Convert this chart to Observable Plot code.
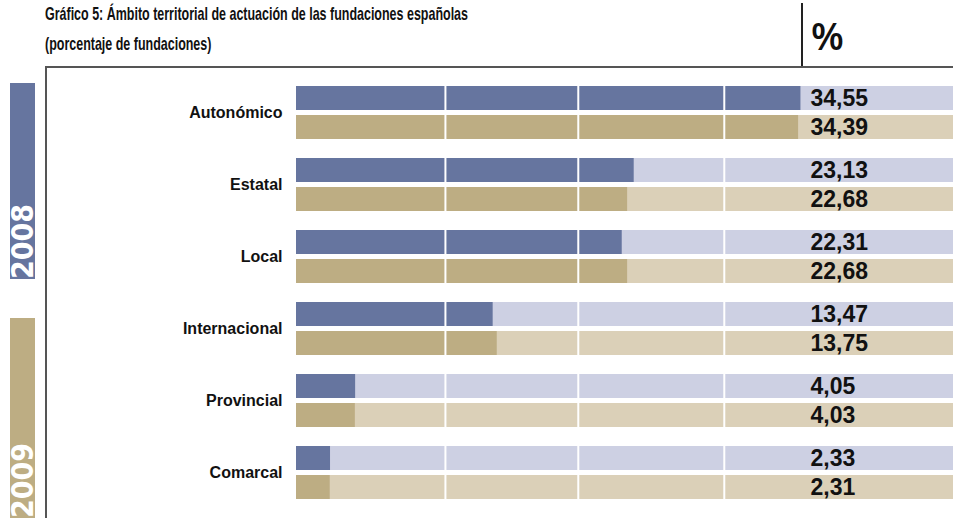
<!DOCTYPE html>
<html>
<head>
<meta charset="utf-8">
<script src="https://cdn.jsdelivr.net/npm/d3@7"></script>
<script src="https://cdn.jsdelivr.net/npm/@observablehq/plot@0.6"></script>
<style>
  html, body { margin: 0; padding: 0; background: #fff; }
  #wrap { position: relative; width: 953px; height: 518px; overflow: hidden; font-family: "Liberation Sans", Arial, sans-serif; }
  #title { position: absolute; left: 45px; top: -1px; font-family: "Liberation Sans", Arial, sans-serif; font-weight: bold; font-size: 19px; line-height: 30px; color: #111; white-space: nowrap; transform-origin: 0 0; }
  #title span { display: inline-block; }
  #pct { position: absolute; left: 811px; top: 12px; font-family: "Open Sans", sans-serif; font-weight: 600; font-size: 38px; line-height: 46px; color: #111; }
  #vline { position: absolute; left: 801px; top: 3px; width: 1.5px; height: 64px; background: #222; }
  #hline { position: absolute; left: 45px; top: 66px; width: 908px; height: 2px; background: #555; }
  #lline { position: absolute; left: 45px; top: 66px; width: 2px; height: 460px; background: #555; }
  .yr { position: absolute; left: 10px; width: 25px; }
  .yr span { position: absolute; left: 0; top: 100%; transform-origin: top left; transform: rotate(-90deg); height: 25px; line-height: 25px; color: #fff; font-family: "DejaVu Sans Condensed", sans-serif; font-weight: bold; font-size: 30px; white-space: nowrap; }
  #chart { position: absolute; left: 0; top: 67px; }
  #chart svg [aria-label^="fy-axis"] text { font-size: 16px; }
</style>
</head>
<body>
<div id="wrap">
  <div id="title"><span id="t1">Gráfico 5: Ámbito territorial de actuación de las fundaciones españolas</span><br><span>(porcentaje de fundaciones)</span></div>
  <div id="vline"></div>
  <div id="pct">%</div>
  <div id="hline"></div>
  <div id="chart"></div>
  <div id="lline"></div>
  <div class="yr" id="y2008" style="top:83px;height:196px;background:#66759f"><span style="width:196px">2008</span></div>
  <div class="yr" id="y2009" style="top:318px;height:200px;background:#bdad83"><span style="width:200px">2009</span></div>
</div>
<script>
const categories = ["Autonómico", "Estatal", "Local", "Internacional", "Provincial", "Comarcal"];
const years = ["2008", "2009"];
const values2008 = [34.55, 23.13, 22.31, 13.47, 4.05, 2.33];
const values2009 = [34.39, 22.68, 22.68, 13.75, 4.03, 2.31];
const trackMax = 45;
const gridValues = [10.2, 19.3, 29.3];

const darkColors = {"2008": "#66759f", "2009": "#bdad83"};
const lightColors = {"2008": "#cdd0e3", "2009": "#dbd0b8"};

const rows = categories.flatMap((c, i) => [
  {cat: c, year: "2008", value: values2008[i]},
  {cat: c, year: "2009", value: values2009[i]}
]);

const fmt = v => v.toFixed(2).replace(".", ",");

// condensed look for the title: fit the first line to the reference width
const t1 = document.getElementById("t1");
const w = t1.getBoundingClientRect().width;
document.getElementById("title").style.transform = `scaleX(${423 / w})`;

const chart = Plot.plot({
  width: 953,
  height: 451,
  marginTop: 18,
  marginBottom: 19,
  marginLeft: 296,
  marginRight: 0,
  style: {fontFamily: "Liberation Sans, Arial, sans-serif", fontWeight: "bold", fontSize: "16px", color: "#111", background: "transparent"},
  x: {domain: [0, trackMax], axis: null},
  y: {domain: years, paddingInner: 5 / 29, paddingOuter: 0, axis: null},
  fy: {domain: categories, paddingInner: 0.266, paddingOuter: 0, axis: "left", tickSize: 0, tickPadding: 14, label: null},
  marks: [
    Plot.barX(rows, {fy: "cat", y: "year", x: () => trackMax, fill: d => lightColors[d.year]}),
    Plot.barX(rows, {fy: "cat", y: "year", x: "value", fill: d => darkColors[d.year]}),
    Plot.ruleX(gridValues, {x: d => d, stroke: "#fff", strokeWidth: 2}),
    Plot.text(rows, {fy: "cat", y: "year", text: d => fmt(d.value), frameAnchor: "right", textAnchor: "start", dx: -143, fontSize: 23, fontWeight: "bold", fill: "#111"})
  ]
});
document.getElementById("chart").appendChild(chart);
</script>
</body>
</html>
